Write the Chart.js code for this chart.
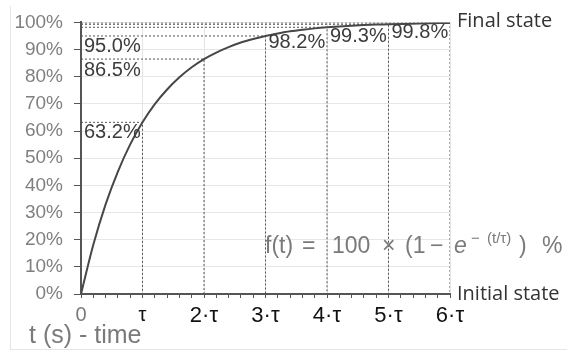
<!DOCTYPE html>
<html>
<head>
<meta charset="utf-8">
<script src="https://cdn.jsdelivr.net/npm/chart.js@4.4.1/dist/chart.umd.min.js"></script>
<style>
  html, body { margin: 0; padding: 0; background: #ffffff; }
  #wrap { position: relative; width: 567px; height: 351px; overflow: hidden; }
  #frame { position: absolute; left: 10px; top: 6px; width: 600px; height: 343px;
           border-left: 1px solid #e6e6e6; border-bottom: 1px solid #e6e6e6; }
  canvas { position: absolute; left: 0; top: 0; }
</style>
</head>
<body>
<div id="wrap">
  <div id="frame"></div>
  <canvas id="c" width="567" height="351"></canvas>
</div>
<script>
// ---- data ----
const timeTau = [0, 0.2, 0.4, 0.6, 0.8, 1.0, 1.2, 1.4, 1.6, 1.8, 2.0, 2.2, 2.4, 2.6, 2.8, 3.0, 3.2, 3.4, 3.6, 3.8, 4.0, 4.4, 4.8, 5.0, 5.5, 6.0];
const responsePct = [0, 18.1, 33.0, 45.1, 55.1, 63.2, 69.9, 75.3, 79.8, 83.5, 86.5, 88.9, 90.9, 92.6, 93.9, 95.0, 95.9, 96.7, 97.3, 97.8, 98.2, 98.8, 99.2, 99.3, 99.6, 99.8];
const markTau = [1, 2, 3, 4, 5, 6];
const markPct = [63.2, 86.5, 95.0, 98.2, 99.3, 99.8];
const markLabels = ['63.2%', '86.5%', '95.0%', '98.2%', '99.3%', '99.8%'];
const yTickLabels = ['0%', '10%', '20%', '30%', '40%', '50%', '60%', '70%', '80%', '90%', '100%'];
const xTickLabels = ['0', 'τ', '2·τ', '3·τ', '4·τ', '5·τ', '6·τ'];
const finalLabel = 'Final state';
const initialLabel = 'Initial state';
const axisTitle = 't (s) - time';

const SANS = '"Liberation Sans", Arial, sans-serif';

const curveData = timeTau.map((t, i) => ({ x: t, y: responsePct[i] }));
const guideSets = markTau.map((k, i) => ({
  type: 'line',
  data: [{ x: 0, y: markPct[i] }, { x: k, y: markPct[i] }, { x: k, y: 0 }],
  borderColor: '#555555',
  borderWidth: 1,
  borderDash: [2, 2],
  pointRadius: 0,
  tension: 0,
  fill: false,
  order: 2
}));

function isWhole(v) { return Math.abs(v - Math.round(v)) < 1e-6; }

const textPlugin = {
  id: 'texts',
  afterDatasetsDraw(chart) {
    const ctx = chart.ctx;
    const xs = chart.scales.x, ys = chart.scales.y;
    ctx.save();
    // percentage labels
    ctx.font = '20px ' + SANS;
    ctx.fillStyle = '#3c3c3c';
    ctx.textBaseline = 'alphabetic';
    ctx.textAlign = 'left';
    const dy = [16, 17, 16, 21, 18, 15];
    markLabels.forEach((lab, i) => {
      const k = markTau[i];
      const x = k <= 3 ? xs.getPixelForValue(0) + 3 : xs.getPixelForValue(k - 1) + 3;
      const y = ys.getPixelForValue(markPct[i]) + dy[i];
      ctx.fillText(lab, x, y);
    });
    // final / initial state
    ctx.font = '20px "Open Sans", sans-serif';
    ctx.fillStyle = '#333333';
    const xr = xs.getPixelForValue(6) + 7;
    ctx.fillText(finalLabel, xr, ys.getPixelForValue(100) + 5);
    ctx.fillText(initialLabel, xr, ys.getPixelForValue(0) + 6);
    // formula
    ctx.fillStyle = '#7a7a7a';
    const base = 253;
    ctx.font = '23px ' + SANS;
    [['f(t)', 265], ['=', 302], ['100', 332], ['×', 382], ['(1', 405], ['−', 430], [')', 519], ['%', 542]]
      .forEach(p => ctx.fillText(p[0], p[1], base));
    ctx.font = 'italic 23px ' + SANS;
    ctx.fillText('e', 454, base);
    ctx.font = '15px ' + SANS;
    ctx.fillText('−', 471, 243);
    ctx.fillText('(t/τ)', 487, 243);
    // axis title
    ctx.font = '25px ' + SANS;
    ctx.fillStyle = '#7a7a7a';
    ctx.fillText(axisTitle, 29, 343);
    ctx.restore();
  }
};

new Chart(document.getElementById('c'), {
  type: 'line',
  data: {
    datasets: [
      {
        data: curveData,
        borderColor: '#474747',
        borderWidth: 2,
        pointRadius: 0,
        cubicInterpolationMode: 'monotone',
        fill: false,
        order: 0
      },
      ...guideSets
    ]
  },
  options: {
    responsive: false,
    animation: false,
    parsing: true,
    layout: { padding: { left: 0, top: 22, right: 117, bottom: 0 } },
    plugins: { legend: { display: false }, tooltip: { enabled: false } },
    scales: {
      x: {
        type: 'linear',
        min: 0, max: 6,
        afterFit(s) { s.height = 57; },
        ticks: {
          stepSize: 0.2,
          autoSkip: false,
          maxRotation: 0,
          padding: 5,
          callback(v) { return isWhole(v) ? xTickLabels[Math.round(v)] : ''; },
          color(c) { return c.tick && Math.round(c.tick.value) === 0 ? '#7a7a7a' : '#111111'; },
          font(c) {
            const v = c.tick ? Math.round(c.tick.value) : 0;
            return { family: SANS, size: v <= 1 ? 20 : 22 };
          }
        },
        grid: {
          color(c) { return c.tick && isWhole(c.tick.value) ? '#e4e4e4' : 'rgba(0,0,0,0)'; },
          tickColor: '#555555',
          tickLength: 4,
          lineWidth: 1
        },
        border: { display: true, color: '#555555', width: 2 }
      },
      y: {
        type: 'linear',
        min: 0, max: 100,
        afterFit(s) { s.width = 81; },
        ticks: {
          stepSize: 10,
          padding: 11,
          color: '#808080',
          font: { family: SANS, size: 19 },
          callback(v) { return yTickLabels[Math.round(v / 10)]; }
        },
        grid: { color: '#e6e6e6', tickColor: '#555555', tickLength: 7, lineWidth: 1 },
        border: { display: true, color: '#555555', width: 2 }
      }
    }
  },
  plugins: [textPlugin]
});
</script>
</body>
</html>
